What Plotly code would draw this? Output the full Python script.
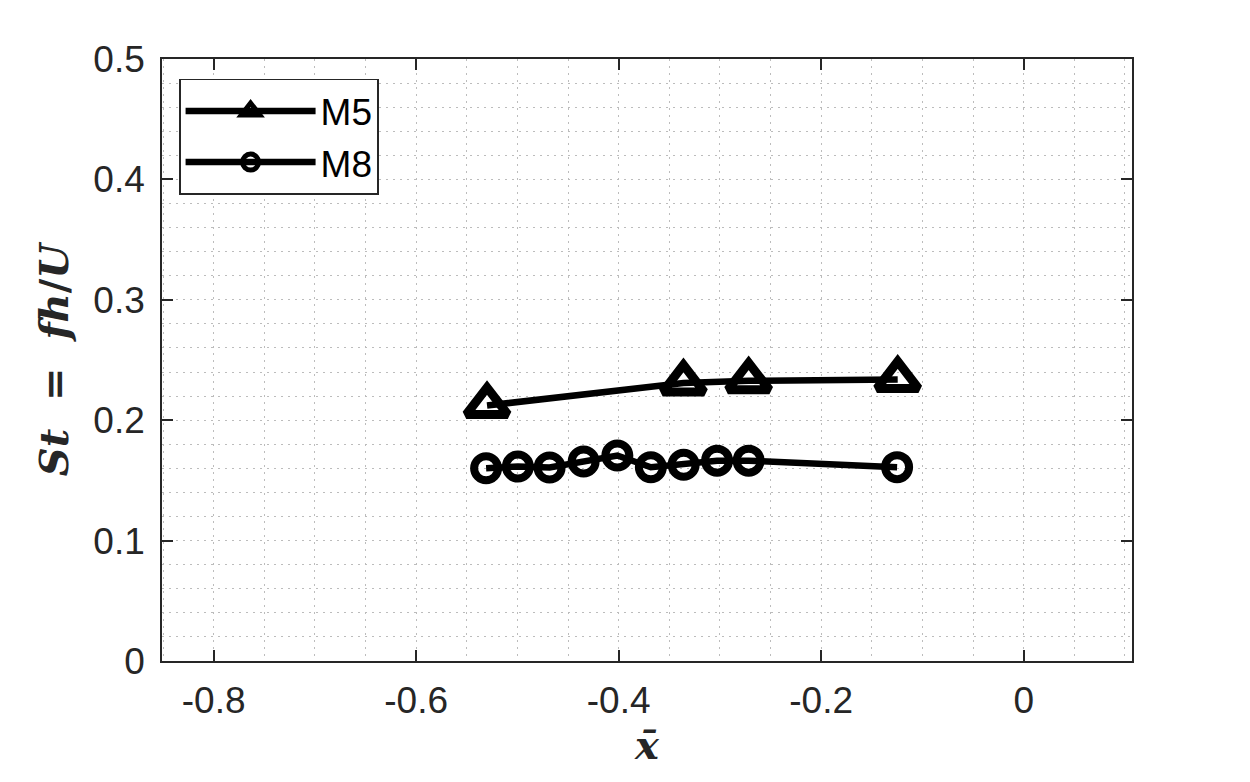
import plotly.graph_objects as go

# ---- data ----
m5_x = [-0.530, -0.336, -0.2716, -0.1244]
m5_st = [0.2122, 0.2309, 0.2327, 0.2338]

m8_x = [-0.5309, -0.4995, -0.4682, -0.4346, -0.4013, -0.3682, -0.3358, -0.3028, -0.2716, -0.1250]
m8_st = [0.1601, 0.1615, 0.1607, 0.1657, 0.1707, 0.1609, 0.1630, 0.1664, 0.1664, 0.1610]

x_ticks = [-0.8, -0.6, -0.4, -0.2, 0]
x_tick_labels = ["-0.8", "-0.6", "-0.4", "-0.2", "0"]
y_ticks = [0, 0.1, 0.2, 0.3, 0.4, 0.5]
y_tick_labels = ["0", "0.1", "0.2", "0.3", "0.4", "0.5"]

series_names = ["M5", "M8"]

AX = "#262626"
GRID = "#bcbcbc"
DASH = "2px,5px"
FONT = "Liberation Sans"

fig = go.Figure()
fig.add_trace(go.Scatter(
    x=m5_x, y=m5_st, name=series_names[0], mode="lines+markers",
    line=dict(color="black", width=6.5),
    marker=dict(symbol="triangle-up-open", size=36, color="black",
                line=dict(width=9, color="black")),
))
fig.add_trace(go.Scatter(
    x=m8_x, y=m8_st, name=series_names[1], mode="lines+markers",
    line=dict(color="black", width=6.5),
    marker=dict(symbol="circle-open", size=24, color="black",
                line=dict(width=8, color="black")),
))

axis_common = dict(
    showline=True, linecolor=AX, linewidth=1.6, mirror="ticks",
    ticks="inside", ticklen=11, tickwidth=1.6, tickcolor=AX,
    showgrid=True, gridcolor=GRID, gridwidth=1, griddash=DASH,
    zeroline=False,
    tickfont=dict(family=FONT, size=37, color=AX),
)

fig.update_xaxes(
    range=[-0.851, 0.107], tickvals=x_ticks, ticktext=x_tick_labels,
    minor=dict(dtick=0.05, tick0=0, showgrid=True, gridcolor=GRID, gridwidth=1,
               griddash=DASH, ticks=""),
    title=dict(text="<b><i>x̄</i></b>",
               font=dict(family="DejaVu Serif", size=40, color=AX), standoff=9),
    ticklabelstandoff=6,
    **axis_common,
)
fig.update_yaxes(
    range=[0, 0.5], tickvals=y_ticks, ticktext=y_tick_labels,
    minor=dict(dtick=0.02, tick0=0, showgrid=True, gridcolor=GRID, gridwidth=1,
               griddash=DASH, ticks=""),
    title=dict(text="<b><i>St</i>\u00a0\u00a0=\u00a0\u00a0<i>fh</i>/<i>U</i></b>",
               font=dict(family="DejaVu Serif", size=40, color=AX), standoff=12),
    ticklabelstandoff=8,
    **axis_common,
)

fig.update_layout(
    width=1250, height=782,
    margin=dict(l=162, r=118, t=59, b=121, autoexpand=False),
    paper_bgcolor="white", plot_bgcolor="white",
    showlegend=True,
    legend=dict(
        x=0.0175, y=0.967, xanchor="left", yanchor="top",
        bgcolor="white", bordercolor=AX, borderwidth=1.6,
        font=dict(family=FONT, size=37, color="black"),
        itemwidth=130, tracegroupgap=0,
    ),
)

fig.write_html("out.html")
